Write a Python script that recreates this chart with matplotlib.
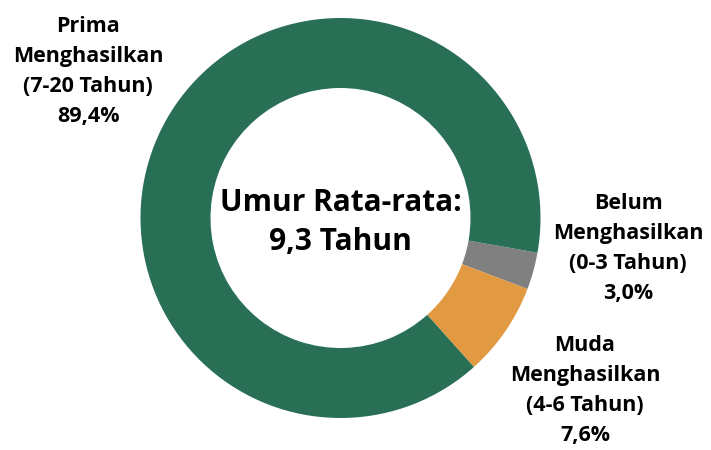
import matplotlib
matplotlib.use("Agg")
import matplotlib.pyplot as plt

# data
labels = ["Belum\nMenghasilkan\n(0-3 Tahun)", "Muda\nMenghasilkan\n(4-6 Tahun)", "Prima\nMenghasilkan\n(7-20 Tahun)"]
shares = [3.0, 7.6, 89.4]
colors = ["#808080", "#E29A42", "#296F55"]
avg_age = "9,3"

plt.rcParams['font.family'] = ['Open Sans', 'DejaVu Sans']

fig = plt.figure(figsize=(7.11, 4.5), dpi=100)
ax = fig.add_axes([0, 0, 1, 1])

# donut, clockwise from just below 3 o'clock
ax.pie(shares, colors=colors, startangle=-10, counterclock=False,
       center=(340.5, 232), radius=200,
       wedgeprops=dict(width=70, edgecolor='none'))
ax.set_xlim(0, 711)
ax.set_ylim(0, 450)
ax.set_aspect('equal')
ax.axis('off')

ax.text(340.5, 450 - 222.5, f"Umur Rata-rata:\n{avg_age} Tahun", ha='center', va='center',
        fontsize=21.5, fontweight='bold', linespacing=1.42)

# label centres in pixels from the top
label_pos = [(628, 248.5), (585, 390.5), (88, 71.5)]
for lab, val, (x, y) in zip(labels, shares, label_pos):
    txt = lab + "\n" + f"{val:.1f}".replace('.', ',') + "%"
    ax.text(x, 450 - y, txt, ha='center', va='center', fontsize=15.5,
            fontweight='bold', linespacing=1.55)

fig.savefig("out.png", dpi=100)
